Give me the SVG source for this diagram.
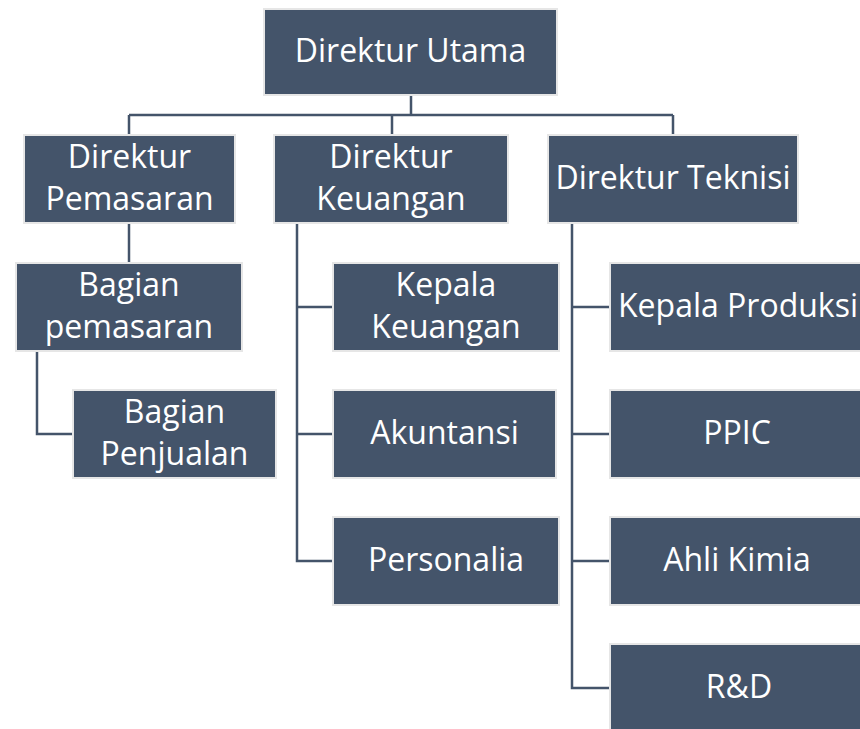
<svg xmlns="http://www.w3.org/2000/svg" width="860" height="729" viewBox="0 0 860 729">
<style>
.box{fill:#44546a;stroke:#e6e6e6;stroke-width:2}
.t{font-family:"Open Sans","Noto Sans",sans-serif;font-size:32px;fill:#ffffff;text-anchor:middle}
.c{fill:none;stroke:#44546a;stroke-width:2.5}
</style>
<rect width="860" height="729" fill="#ffffff"/>
<g id="connectors">
<path class="c" d="M411,96 V115 M129,115 H673 M129,115 V134 M392,115 V134 M673,115 V134"/>
<path class="c" d="M129,224 V262"/>
<path class="c" d="M37,352 V434 H72"/>
<path class="c" d="M297,224 V561 H332 M297,307 H332 M297,434 H332"/>
<path class="c" d="M572,224 V688 H609 M572,307 H609 M572,434 H609 M572,561 H609"/>
</g>
<g id="direktur-utama"><rect class="box" x="264" y="9" width="293" height="86"/><text class="t" x="410.5" y="62">Direktur Utama</text></g>
<g id="direktur-pemasaran"><rect class="box" x="24" y="135" width="211" height="88"/><text class="t" x="129.5" y="168">Direktur</text><text class="t" x="129.5" y="210">Pemasaran</text></g>
<g id="direktur-keuangan"><rect class="box" x="274" y="135" width="234" height="88"/><text class="t" x="391" y="168">Direktur</text><text class="t" x="391" y="210">Keuangan</text></g>
<g id="direktur-teknisi"><rect class="box" x="548" y="135" width="250" height="88"/><text class="t" x="673" y="189">Direktur Teknisi</text></g>
<g id="bagian-pemasaran"><rect class="box" x="16" y="263" width="226" height="88"/><text class="t" x="129" y="296">Bagian</text><text class="t" x="129" y="338">pemasaran</text></g>
<g id="bagian-penjualan"><rect class="box" x="73" y="390" width="203" height="88"/><text class="t" x="174.5" y="423">Bagian</text><text class="t" x="174.5" y="465">Penjualan</text></g>
<g id="kepala-keuangan"><rect class="box" x="333" y="263" width="226" height="88"/><text class="t" x="446" y="296">Kepala</text><text class="t" x="446" y="338">Keuangan</text></g>
<g id="akuntansi"><rect class="box" x="333" y="390" width="223" height="88"/><text class="t" x="444.5" y="444">Akuntansi</text></g>
<g id="personalia"><rect class="box" x="333" y="517" width="226" height="88"/><text class="t" x="446" y="571">Personalia</text></g>
<g id="kepala-produksi"><rect class="box" x="610" y="263" width="256" height="88"/><text class="t" x="738" y="317">Kepala Produksi</text></g>
<g id="ppic"><rect class="box" x="610" y="390" width="256" height="88"/><text class="t" x="737" y="444">PPIC</text></g>
<g id="ahli-kimia"><rect class="box" x="610" y="517" width="256" height="88"/><text class="t" x="737" y="571">Ahli Kimia</text></g>
<g id="rnd"><rect class="box" x="610" y="644" width="256" height="90"/><text class="t" x="739" y="698">R&amp;D</text></g>
</svg>
